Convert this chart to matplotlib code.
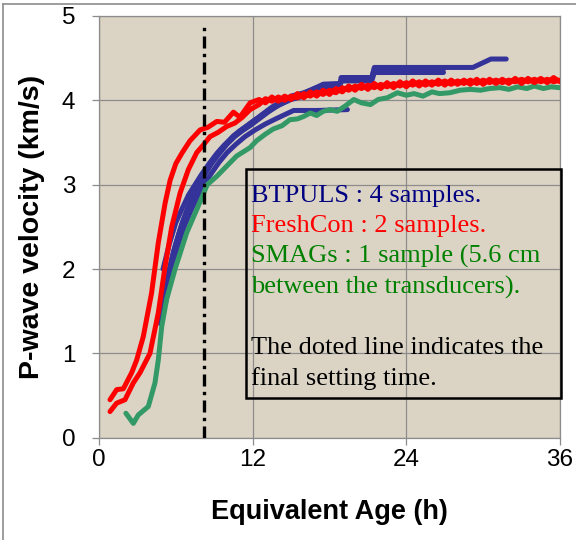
import matplotlib
matplotlib.use("Agg")
import matplotlib.pyplot as plt
from matplotlib.patches import Rectangle
from matplotlib.lines import Line2D

# ---------------- data ----------------
red1_x = [0.86, 1.38, 1.9, 2.55, 2.94, 3.46, 4.1, 4.63, 5.16, 5.55, 6.0, 6.5, 7.1, 7.9, 8.5, 9.2,
          9.8, 10.5, 11.0, 11.8, 12.5, 13.0, 13.5, 14.0, 14.5, 15.0, 15.5, 16.0, 16.5, 17.0, 17.5,
          18.0, 18.5, 19.0, 19.5, 20.0, 20.5, 21.0, 21.5, 22.0, 22.5, 23.0, 23.5, 24.0, 24.5, 25.0,
          25.5, 26.0, 26.5, 27.0, 27.5, 28.0, 28.5, 29.0, 29.5, 30.0, 30.5, 31.0, 31.5, 32.0, 32.5,
          33.0, 33.5, 34.0, 34.5, 35.0, 35.5, 36.0]
red1_y = [0.45, 0.57, 0.58, 0.77, 0.92, 1.2, 1.71, 2.31, 2.78, 3.05, 3.25, 3.38, 3.52, 3.65, 3.68, 3.75,
          3.74, 3.86, 3.80, 3.97, 4.01, 3.97, 4.04, 3.99, 4.05, 4.01, 4.08, 4.03, 4.10, 4.05, 4.12,
          4.07, 4.14, 4.10, 4.17, 4.12, 4.19, 4.13, 4.20, 4.14, 4.21, 4.15, 4.22, 4.16, 4.23, 4.17,
          4.23, 4.18, 4.24, 4.18, 4.24, 4.19, 4.24, 4.19, 4.25, 4.19, 4.25, 4.20, 4.25, 4.20, 4.26,
          4.20, 4.26, 4.21, 4.26, 4.21, 4.27, 4.22]

red2_x = [0.86, 1.38, 2.03, 2.68, 3.2, 3.98, 4.63, 5.16, 5.68, 6.33, 6.98, 7.63, 8.2, 8.67, 9.3,
          9.97, 10.6, 11.2, 11.8, 12.5, 13.0, 13.5, 14.0, 14.5, 15.0, 15.5, 16.0, 16.5, 17.0, 17.5,
          18.0, 18.5, 19.0, 19.5, 20.0, 20.5, 21.0, 21.5, 22.0, 22.5, 23.0, 23.5, 24.0, 24.5, 25.0,
          25.5, 26.0, 26.5, 27.0, 27.5, 28.0, 28.5, 29.0, 29.5, 30.0, 30.5, 31.0, 31.5, 32.0, 32.5,
          33.0, 33.5, 34.0, 34.5, 35.0, 35.5, 36.0]
red2_y = [0.31, 0.41, 0.45, 0.65, 0.77, 1.0, 1.48, 2.03, 2.5, 2.9, 3.18, 3.38, 3.48, 3.57, 3.62,
          3.69, 3.73, 3.80, 3.89, 3.95, 4.02, 3.99, 4.04, 4.00, 4.05, 4.03, 4.08, 4.05, 4.10, 4.07,
          4.12, 4.09, 4.15, 4.12, 4.17, 4.14, 4.18, 4.15, 4.19, 4.16, 4.20, 4.17, 4.21, 4.18, 4.22,
          4.18, 4.22, 4.19, 4.23, 4.19, 4.23, 4.20, 4.24, 4.20, 4.24, 4.21, 4.24, 4.21, 4.24, 4.22,
          4.25, 4.22, 4.25, 4.22, 4.25, 4.22, 4.24]

blue1_x = [5.0, 5.5, 6.0, 6.5, 7.0, 7.5, 8.0, 8.5, 9.0, 9.5, 10.0, 10.5, 11.0, 11.6, 12.2, 12.8,
           13.5, 14.2, 15.0, 16.0, 17.0, 18.8, 18.9, 21.3, 21.5, 29.2, 30.6, 31.8]
blue1_y = [1.55, 2.0, 2.3, 2.55, 2.75, 2.92, 3.06, 3.2, 3.32, 3.42, 3.5, 3.58, 3.64, 3.7, 3.77, 3.84,
           3.92, 3.98, 4.05, 4.09, 4.15, 4.15, 4.27, 4.27, 4.39, 4.39, 4.49, 4.49]

blue2_x = [4.8, 5.3, 5.8, 6.3, 6.8, 7.3, 7.8, 8.3, 8.8, 9.4, 10.0, 10.6, 11.2, 11.8, 12.5, 13.2,
           14.0, 15.0, 16.0, 17.0, 17.5, 18.8, 19.0, 21.3, 21.5, 26.9]
blue2_y = [1.35, 1.85, 2.2, 2.45, 2.67, 2.85, 3.0, 3.13, 3.25, 3.37, 3.48, 3.57, 3.64, 3.7, 3.78, 3.86,
           3.94, 4.01, 4.05, 4.09, 4.19, 4.19, 4.23, 4.23, 4.33, 4.33]

blue3_x = [5.0, 5.5, 6.0, 6.5, 7.0, 7.5, 8.0, 8.6, 9.2, 9.8, 10.5, 11.2, 12.0, 12.8, 13.5, 14.5,
           15.5, 16.5, 17.5, 18.8, 19.0, 21.3, 21.5, 26.9]
blue3_y = [2.0, 2.3, 2.55, 2.72, 2.88, 3.0, 3.12, 3.25, 3.37, 3.47, 3.57, 3.66, 3.75, 3.83, 3.9, 3.98,
           4.05, 4.12, 4.19, 4.2, 4.27, 4.27, 4.37, 4.37]

blue4_x = [5.2, 5.7, 6.2, 6.7, 7.2, 7.7, 8.2, 8.8, 9.4, 10.0, 10.7, 11.4, 12.2, 13.0, 13.8, 14.5,
           15.2, 17.0, 19.4]
blue4_y = [1.6, 2.0, 2.3, 2.52, 2.7, 2.86, 3.0, 3.14, 3.27, 3.38, 3.48, 3.57, 3.65, 3.72, 3.78, 3.83,
           3.88, 3.88, 3.89]

green_x = [2.1, 2.68, 3.07, 3.85, 4.37, 4.63, 4.9, 5.28, 5.94, 6.85, 7.9, 8.45, 9.2, 9.97, 10.75,
           11.8, 12.3, 13.0, 13.6, 14.3, 14.9, 15.5, 16.0, 16.5, 17.0, 17.5, 18.05, 18.6, 19.2,
           19.9, 20.5, 21.2, 21.8, 22.5, 23.3, 24.0, 24.6, 25.3, 26.0, 26.6, 27.4, 28.2, 29.0,
           29.8, 30.5, 31.3, 32.0, 32.7, 33.4, 34.0, 34.7, 35.3, 36.0]
green_y = [0.29, 0.17, 0.27, 0.37, 0.65, 0.92, 1.32, 1.64, 2.0, 2.43, 2.8, 3.0, 3.1, 3.22, 3.34,
           3.44, 3.52, 3.6, 3.66, 3.7, 3.77, 3.78, 3.81, 3.85, 3.82, 3.87, 3.89, 3.87, 3.93,
           4.01, 3.97, 3.95, 4.01, 4.03, 4.09, 4.06, 4.08, 4.05, 4.10, 4.08, 4.09, 4.12, 4.13,
           4.12, 4.14, 4.15, 4.13, 4.16, 4.14, 4.17, 4.14, 4.16, 4.15]

final_setting_time = 8.2

x_ticks = [0, 12, 24, 36]
y_ticks = [0, 1, 2, 3, 4, 5]

note_lines = [
    ("BTPULS : 4 samples.", "#000080"),
    ("FreshCon : 2 samples.", "#FF0000"),
    ("SMAGs : 1 sample (5.6 cm", "#008000"),
    ("between the transducers).", "#008000"),
    ("", "black"),
    ("The doted line indicates the", "black"),
    ("final setting time.", "black"),
]

# ---------------- figure ----------------
fig = plt.figure(figsize=(5.76, 5.4), dpi=100)
ax = fig.add_axes([99 / 576, (540 - 437.7) / 540, (560 - 99) / 576, (437.7 - 16) / 540])
ax.set_facecolor("#DBD4C5")

ax.set_xlim(0, 36)
ax.set_ylim(0, 5)
ax.set_xticks(x_ticks)
ax.set_yticks(y_ticks)
ax.grid(True, color="#8C8C8C", lw=0.9)
ax.set_axisbelow(True)
for s in ax.spines.values():
    s.set_color("#8C8C8C")
    s.set_linewidth(0.9)
ax.tick_params(direction="out", length=5, width=0.9, color="#8C8C8C",
               labelsize=17.5)
ax.tick_params(axis="x", pad=3)
ax.tick_params(axis="y", pad=12)
for lab in ax.get_xticklabels() + ax.get_yticklabels():
    lab.set_fontfamily("Liberation Sans")

lw = 3.6
blue = "#333399"
ax.plot(blue4_x, blue4_y, color=blue, lw=lw, solid_capstyle="round", zorder=3)
ax.plot(blue3_x, blue3_y, color=blue, lw=lw, solid_capstyle="round", zorder=3)
ax.plot(blue2_x, blue2_y, color=blue, lw=lw, solid_capstyle="round", zorder=3)
ax.plot(blue1_x, blue1_y, color=blue, lw=lw, solid_capstyle="round", zorder=3)
ax.plot(green_x, green_y, color="#339966", lw=lw, solid_capstyle="round", zorder=4)
ax.plot(red2_x, red2_y, color="#FF0000", lw=lw, solid_capstyle="round", zorder=5)
ax.plot(red1_x, red1_y, color="#FF0000", lw=lw, solid_capstyle="round", zorder=5)

ax.plot([final_setting_time, final_setting_time], [0, 4.93], color="black", lw=2.4,
        linestyle=(0, (3.6, 1.6, 1, 1.6)), zorder=6)

ax.add_patch(Rectangle((11.5, 0.47), 24.6, 2.72, facecolor="none", edgecolor="black",
                       lw=1.8, zorder=7, clip_on=False))
y0 = 2.80
step = 0.362
for i, (txt, col) in enumerate(note_lines):
    if txt:
        ax.text(11.9, y0 - i * step, txt, color=col, fontsize=19,
                fontfamily="Liberation Serif", va="baseline", ha="left", zorder=8)

ax.set_xlabel("Equivalent Age (h)", fontsize=19.5, fontweight="bold",
              fontfamily="Liberation Sans", labelpad=20)
ax.set_ylabel("P-wave velocity (km/s)", fontsize=20.5, fontweight="bold",
              fontfamily="Liberation Sans", labelpad=12)

# outer border (top and left visible)
fig.add_artist(Line2D([3 / 576, 1.0], [1 - 4 / 540, 1 - 4 / 540], color="#8C8C8C", lw=1.2,
                      transform=fig.transFigure))
fig.add_artist(Line2D([3 / 576, 3 / 576], [0, 1 - 4 / 540], color="#8C8C8C", lw=1.2,
                      transform=fig.transFigure))

fig.savefig("out.png", dpi=100)
